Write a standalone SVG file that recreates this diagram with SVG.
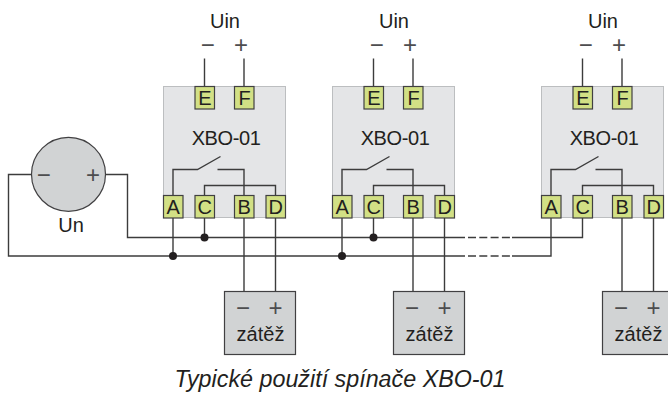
<svg xmlns="http://www.w3.org/2000/svg" xmlns:xlink="http://www.w3.org/1999/xlink" width="668" height="394" viewBox="0 0 668 394">
<style>
text{font-family:"Liberation Sans",Arial,sans-serif;font-size:20px;fill:#231f20;text-anchor:middle}
.w{fill:none;stroke:#3c3c3c;stroke-width:1.4}
.body{fill:#e4e5e7;stroke:#bcbec0;stroke-width:1}
.pin{fill:#d2e085;stroke:#414042;stroke-width:1.2}
.load{fill:#d1d3d4;stroke:#414042;stroke-width:1.2}
.dot{fill:#231f20}
.sign{font-size:24px;fill:#4d4d4f}
</style>
<defs>
<g id="mod">
<rect class="body" x="163.5" y="86.5" width="122" height="131"/>
<path class="w" d="M204.5 58.500V86M244 58.500V86"/>
<path class="w" d="M173 195V169.500H197.500L220.500 156.500M217.500 169.500H244V195M204.500 195V185.500H275.500V195"/>
<rect class="pin" x="195" y="86.500" width="19.500" height="22.500"/><text x="204.800" y="105">E</text>
<rect class="pin" x="234.500" y="86.500" width="19.500" height="22.500"/><text x="244.500" y="105">F</text>
<text x="226" y="145" letter-spacing="-0.4">XBO-01</text>
<text x="225" y="28">Uin</text>
<text class="sign" x="207.800" y="52.700">−</text>
<text class="sign" x="241" y="52.700">+</text>
<rect class="pin" x="163.500" y="195.500" width="19.500" height="22.500"/><text x="173.200" y="214">A</text>
<rect class="pin" x="195" y="195.500" width="19.500" height="22.500"/><text x="204.800" y="214">C</text>
<rect class="pin" x="234.500" y="195.500" width="19.500" height="22.500"/><text x="244.200" y="214">B</text>
<rect class="pin" x="266" y="195.500" width="19.500" height="22.500"/><text x="275.800" y="214">D</text>
</g>
<g id="ld">
<path class="w" d="M244 218V291.500M275.500 218V291.500"/>
<rect class="load" x="224.500" y="291.500" width="71" height="63"/>
<text class="sign" x="243" y="316">−</text>
<text class="sign" x="275.500" y="316">+</text>
<text x="260.500" y="341">zátěž</text>
</g>
</defs>
<g id="connectors">
<path class="w" d="M31 174.500H8.500V256H465M105.500 174.500H127.500V237.500H465"/>
<path class="w" d="M468 237.500H510M468 256H510" stroke-dasharray="8 3.300"/>
<path class="w" d="M512 237.500H582.500V218M512 256H551V218"/>
<path class="w" d="M173 218V256M204.500 218V237.500M342 218V256M373.500 218V237.500"/>
<circle class="dot" cx="204.500" cy="237.500" r="4"/>
<circle class="dot" cx="173" cy="256" r="4"/>
<circle class="dot" cx="373.500" cy="237.500" r="4"/>
<circle class="dot" cx="342" cy="256" r="4"/>
</g>
<g id="source-un">
<circle cx="68.500" cy="174.300" r="37" fill="#d1d3d4" stroke="#414042" stroke-width="1.2"/>
<text class="sign" x="43.700" y="182.700">−</text>
<text class="sign" x="93" y="182.700">+</text>
<text x="71" y="232">Un</text>
</g>
<g id="module-1"><use xlink:href="#mod"/></g>
<g id="module-2"><use xlink:href="#mod" x="169"/></g>
<g id="module-3"><use xlink:href="#mod" x="378"/></g>
<g id="load-1"><use xlink:href="#ld"/></g>
<g id="load-2"><use xlink:href="#ld" x="169"/></g>
<g id="load-3"><use xlink:href="#ld" x="378"/></g>
<text x="340" y="387" font-style="italic" style="font-size:23.300px">Typické použití spínače XBO-01</text>
</svg>
